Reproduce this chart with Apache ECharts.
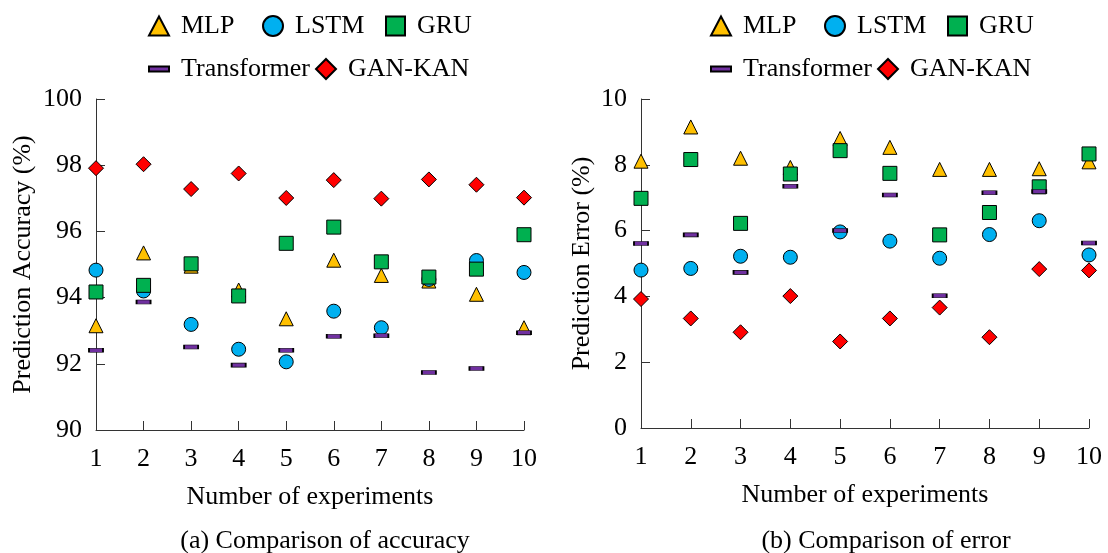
<!DOCTYPE html>
<html>
<head>
<meta charset="utf-8">
<title>Accuracy and error comparison</title>
<script src="https://cdn.jsdelivr.net/npm/echarts@6/dist/echarts.min.js"></script>
<style>
  html, body { margin: 0; padding: 0; background: #fff; }
  #chart { width: 1108px; height: 553px; }
</style>
</head>
<body>
<div id="chart"></div>
<script>
// experiment numbers
const experiments = [1, 2, 3, 4, 5, 6, 7, 8, 9, 10]

// (a) prediction accuracy (%)
const accMLP = [93.15, 95.35, 94.95, 94.23, 93.36, 95.13, 94.67, 94.5, 94.1, 93.09]
const accLSTM = [94.83, 94.2, 93.19, 92.44, 92.06, 93.59, 93.09, 94.55, 95.12, 94.76]
const accGRU = [94.17, 94.37, 95.02, 94.05, 95.64, 96.13, 95.08, 94.62, 94.86, 95.9]
const accTransformer = [92.41, 93.87, 92.51, 91.96, 92.41, 92.83, 92.85, 91.74, 91.86, 92.94]
const accGANKAN = [97.91, 98.03, 97.28, 97.75, 97.01, 97.55, 96.99, 97.57, 97.41, 97.02]

// (b) prediction error (%)
const errMLP = [8.11, 9.15, 8.2, 7.92, 8.8, 8.53, 7.86, 7.86, 7.88, 8.09]
const errLSTM = [4.8, 4.85, 5.22, 5.19, 5.96, 5.68, 5.16, 5.88, 6.3, 5.26]
const errGRU = [6.98, 8.16, 6.22, 7.72, 8.43, 7.74, 5.87, 6.55, 7.33, 8.33]
const errTransformer = [5.61, 5.87, 4.73, 7.35, 6.0, 7.08, 4.02, 7.15, 7.19, 5.62]
const errGANKAN = [3.92, 3.33, 2.91, 4.01, 2.63, 3.33, 3.66, 2.76, 4.83, 4.79]

const FONT = 'Liberation Serif'
const FS = 26

// 样式：每个模型的符号和颜色
const models = [
  { name: 'MLP', symbol: 'triangle', size: 14, color: '#FFC000' },
  { name: 'LSTM', symbol: 'circle', size: 14, color: '#00B0F0' },
  { name: 'GRU', symbol: 'rect', size: 14, color: '#00B050' },
  { name: 'Transformer', symbol: 'rect', size: [14, 4], color: '#7030A0' },
  { name: 'GAN-KAN', symbol: 'diamond', size: 15, color: '#FF0000' }
]

function pairs (values) {
  return experiments.map((x, i) => [x, values[i]])
}

function makeSeries (idx, dataList) {
  return models.map((m, k) => ({
    name: m.name,
    type: 'scatter',
    xAxisIndex: idx,
    yAxisIndex: idx,
    symbol: m.symbol,
    symbolSize: m.size,
    data: pairs(dataList[k]),
    itemStyle: { color: m.color, borderColor: '#000', borderWidth: 1, opacity: 1 },
    z: 2 + k,
    emphasis: { disabled: true }
  }))
}

// legend：每一项单独放置
function makeLegends (x0) {
  const items = [
    { name: 'MLP', left: x0, top: 13, w: 20, h: 19 },
    { name: 'LSTM', left: x0 + 114, top: 13, w: 20, h: 20 },
    { name: 'GRU', left: x0 + 237, top: 13, w: 19, h: 19 },
    { name: 'Transformer', left: x0, top: 56, w: 20, h: 5 },
    { name: 'GAN-KAN', left: x0 + 167, top: 56, w: 20, h: 20 }
  ]
  return items.map(it => ({
    data: [it.name],
    left: it.left,
    top: it.top,
    orient: 'horizontal',
    itemWidth: it.w,
    itemHeight: it.h,
    padding: 0,
    selectedMode: false,
    textStyle: { fontFamily: FONT, fontSize: FS, color: '#000', padding: [0, 0, 0, 7] }
  }))
}

function xAxisOpt (idx) {
  return {
    gridIndex: idx,
    type: 'value',
    min: 1,
    max: 10,
    interval: 1,
    name: 'Number of experiments',
    nameLocation: 'middle',
    nameGap: 54,
    nameTextStyle: { fontFamily: FONT, fontSize: FS, color: '#000' },
    axisLine: { lineStyle: { color: '#333', width: 1 } },
    axisTick: { inside: true, length: 9, lineStyle: { color: '#333' } },
    axisLabel: { fontFamily: FONT, fontSize: FS, color: '#000', margin: 16 },
    splitLine: { show: false }
  }
}

function yAxisOpt (idx, name, min, max, gap) {
  return {
    gridIndex: idx,
    type: 'value',
    min: min,
    max: max,
    interval: 2,
    name: name,
    nameLocation: 'middle',
    nameRotate: 90,
    nameGap: gap,
    nameTextStyle: { fontFamily: FONT, fontSize: FS, color: '#000' },
    axisLine: { show: true, lineStyle: { color: '#333', width: 1 } },
    axisTick: { show: true, inside: true, length: 9, lineStyle: { color: '#333' } },
    axisLabel: { fontFamily: FONT, fontSize: FS, color: '#000', margin: 14 },
    splitLine: { show: false }
  }
}

const chart = echarts.init(document.getElementById('chart'))
const option = {
  animation: false,
  backgroundColor: '#fff',
  title: [
    {
      text: '(a) Comparison of accuracy',
      left: 320,
      top: 523,
      textAlign: 'center',
      textStyle: { fontFamily: FONT, fontSize: FS, fontWeight: 'normal', color: '#000' }
    },
    {
      text: '(b) Comparison of error',
      left: 881,
      top: 523,
      textAlign: 'center',
      textStyle: { fontFamily: FONT, fontSize: FS, fontWeight: 'normal', color: '#000' }
    }
  ],
  legend: makeLegends(148).concat(makeLegends(710)),
  grid: [
    { left: 96, top: 99, width: 428, height: 331 },
    { left: 641, top: 99, width: 448, height: 329 }
  ],
  xAxis: [xAxisOpt(0), xAxisOpt(1)],
  yAxis: [
    yAxisOpt(0, 'Prediction Accuracy (%)', 90, 100, 60),
    yAxisOpt(1, 'Prediction Error (%)', 0, 10, 46)
  ],
  series: makeSeries(0, [accMLP, accLSTM, accGRU, accTransformer, accGANKAN])
    .concat(makeSeries(1, [errMLP, errLSTM, errGRU, errTransformer, errGANKAN]))
}
chart.setOption(option)
</script>
</body>
</html>
